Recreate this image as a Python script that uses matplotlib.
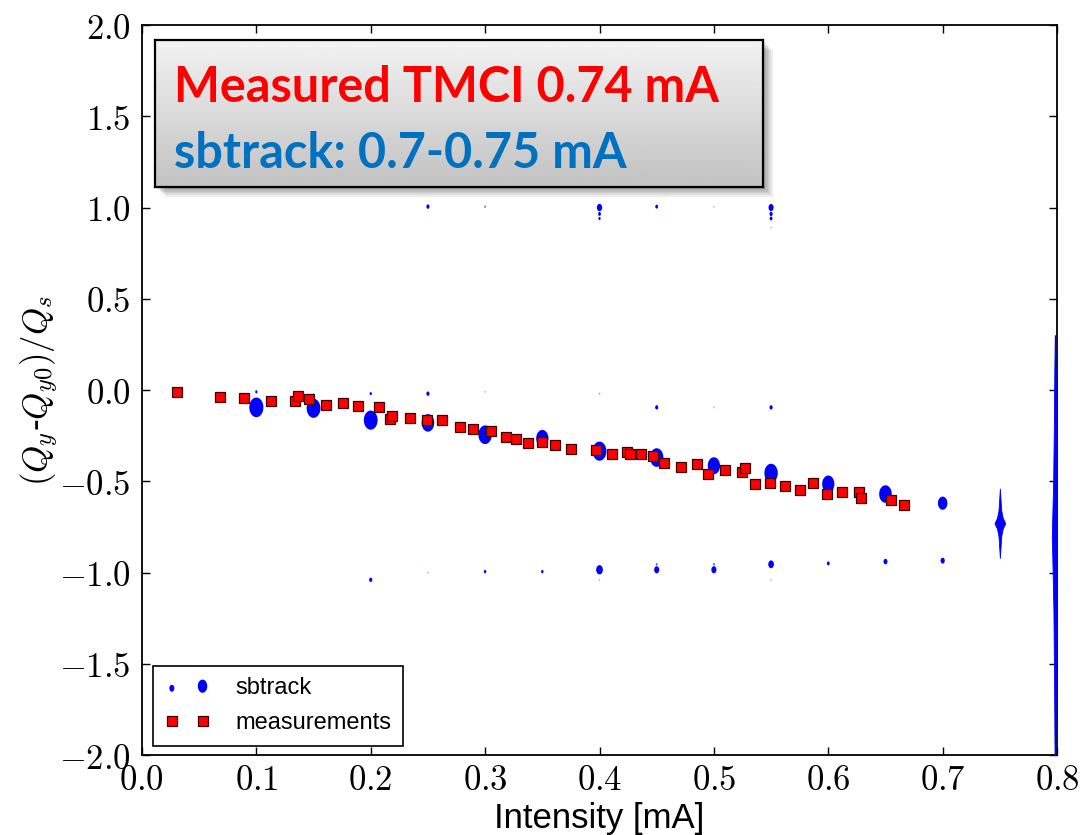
import numpy as np
import matplotlib
matplotlib.use("Agg")
import matplotlib.pyplot as plt
from matplotlib.path import Path
from matplotlib.patches import Rectangle
from matplotlib.lines import Line2D
from matplotlib.legend_handler import HandlerPathCollection
from matplotlib.ticker import FuncFormatter, MultipleLocator

plt.rcParams["mathtext.fontset"] = "cm"

# -----------------------------------------------------------------------------
# data
# -----------------------------------------------------------------------------

# sbtrack, main (mode 0) line
sb_main_x = [0.10, 0.15, 0.20, 0.25, 0.30, 0.35, 0.40, 0.45, 0.50, 0.55, 0.60, 0.65, 0.70]
sb_main_y = [-0.095, -0.100, -0.165, -0.180, -0.245, -0.265, -0.335, -0.370,
             -0.415, -0.455, -0.515, -0.570, -0.620]
sb_main_s = [200, 190, 190, 160, 180, 150, 190, 180, 150, 180, 150, 160, 90]

# sbtrack, weak side lines (near 0, +1 and -1)
sb_side_x = [0.10, 0.15, 0.20, 0.25, 0.30, 0.40, 0.45, 0.50, 0.55,
             0.25, 0.30, 0.40, 0.40, 0.40, 0.45, 0.50, 0.55, 0.55, 0.55, 0.55,
             0.20, 0.25, 0.30, 0.35, 0.40, 0.40, 0.45, 0.45, 0.50, 0.50,
             0.55, 0.55, 0.60, 0.65, 0.70]
sb_side_y = [-0.01, -0.02, -0.02, -0.02, -0.01, -0.02, -0.095, -0.095, -0.095,
             1.005, 1.005, 1.00, 0.965, 0.94, 1.005, 1.005, 1.00, 0.965, 0.94, 0.89,
             -1.04, -1.00, -0.995, -0.995, -0.985, -1.04, -0.985, -0.955, -0.985, -0.955,
             -0.955, -1.04, -0.95, -0.94, -0.935]
sb_side_s = [5, 2, 5, 10, 2, 3, 10, 2, 10,
             10, 3, 28, 8, 5, 8, 2, 26, 10, 8, 2,
             10, 2, 6, 6, 45, 2, 26, 4, 26, 4,
             32, 2, 8, 16, 18]
sb_side_alpha = [1, .35, 1, 1, .35, .35, 1, .35, 1,
                 1, .6, 1, 1, 1, 1, .35, 1, 1, 1, .35,
                 1, .35, 1, 1, 1, .35, 1, .6, 1, .6,
                 1, .35, 1, 1, 1]

# sbtrack spectra that smear out at 0.75 and 0.8 mA (tune, half width in mA)
spread_075_x = 0.75
spread_075_y = [-0.54, -0.60, -0.66, -0.70, -0.73, -0.76, -0.80, -0.86, -0.92]
spread_075_w = [0.0, 0.0006, 0.0012, 0.0025, 0.0047, 0.0025, 0.0012, 0.0006, 0.0]
spread_080_x = 0.7982
spread_080_y = [0.30, 0.10, -0.20, -0.50, -0.70, -0.80, -0.90, -1.20, -1.60, -2.0]
spread_080_w = [0.0002, 0.0006, 0.0010, 0.0016, 0.0024, 0.0028, 0.0024, 0.0014, 0.0008, 0.0004]

# measurements
meas_x = [0.031, 0.068, 0.089, 0.1125, 0.1335, 0.136, 0.146, 0.161, 0.176, 0.189,
          0.207, 0.217, 0.219, 0.234, 0.249, 0.2626, 0.2778, 0.2897, 0.3054, 0.318,
          0.3267, 0.3378, 0.3495, 0.3614, 0.3748, 0.3967, 0.411, 0.4243, 0.4267, 0.4363,
          0.447, 0.456, 0.4716, 0.485, 0.4946, 0.510, 0.5245, 0.5275, 0.536, 0.5488,
          0.5622, 0.575, 0.5867, 0.5986, 0.612, 0.627, 0.6284, 0.6546, 0.666]
meas_y = [-0.009, -0.037, -0.042, -0.062, -0.059, -0.033, -0.048, -0.082, -0.073, -0.088,
          -0.091, -0.157, -0.142, -0.152, -0.163, -0.166, -0.201, -0.212, -0.226, -0.256,
          -0.270, -0.289, -0.285, -0.300, -0.325, -0.329, -0.349, -0.340, -0.349, -0.349,
          -0.364, -0.398, -0.424, -0.407, -0.459, -0.438, -0.449, -0.427, -0.517, -0.508,
          -0.528, -0.548, -0.508, -0.572, -0.557, -0.557, -0.592, -0.603, -0.632]

box_line1 = "Measured TMCI 0.74 mA"
box_line2 = "sbtrack: 0.7-0.75 mA"

# -----------------------------------------------------------------------------
# figure
# -----------------------------------------------------------------------------

fig = plt.figure(figsize=(10.92, 8.35), dpi=100)
ax = fig.add_axes([0.130, 0.0958, 0.838, 0.8742])

# tall ellipse marker, like the sbtrack blobs
t = np.linspace(0, 2 * np.pi, 40)
ellipse = Path(np.column_stack([0.72 * np.cos(t), np.sin(t)]), closed=True)

sb = ax.scatter(sb_main_x, sb_main_y, s=sb_main_s, marker=ellipse,
                color="#0000ff", linewidths=0, zorder=3, label="sbtrack")
ax.scatter(sb_side_x, sb_side_y, s=sb_side_s, marker=ellipse, color="#0000ff",
           alpha=sb_side_alpha, linewidths=0, zorder=3)

w = np.array(spread_075_w)
ax.fill_betweenx(spread_075_y, spread_075_x - w, spread_075_x + w,
                 color="#0000ff", linewidth=0.6, zorder=3)
w = np.array(spread_080_w)
ax.fill_betweenx(spread_080_y, spread_080_x - w, spread_080_x + w,
                 color="#0000ff", linewidth=0.6, zorder=3)

ax.plot(meas_x, meas_y, ls="none", marker="s", ms=7.2, mfc="#ff0000",
        mec="#3a0000", mew=0.9, zorder=4, label="measurements")

ax.set_xlim(0.0, 0.8)
ax.set_ylim(-2.0, 2.0)
ax.xaxis.set_major_locator(MultipleLocator(0.1))
ax.yaxis.set_major_locator(MultipleLocator(0.5))
fmt = FuncFormatter(lambda v, pos: "$%.1f$" % v)
ax.xaxis.set_major_formatter(fmt)
ax.yaxis.set_major_formatter(fmt)
ax.tick_params(direction="in", top=True, right=True, length=6, width=1,
               labelsize=25)
ax.tick_params(axis="y", pad=8)
ax.tick_params(axis="x", pad=6)
for sp in ax.spines.values():
    sp.set_linewidth(1.3)

ax.set_xlabel("Intensity [mA]", fontsize=25, family="Liberation Sans")
ax.xaxis.set_label_coords(0.5, -0.064)
ax.set_ylabel(r"$(Q_y$-$Q_{y0})/Q_s$", fontsize=25, family="DejaVu Serif")
ax.yaxis.set_label_coords(-0.088, 0.5)

meas_handle = Line2D([], [], ls="none", marker="s", ms=7.2, mfc="#ff0000",
                     mec="#3a0000", mew=0.9)
leg = ax.legend([sb, meas_handle], ["sbtrack", "measurements"], loc="lower left",
                bbox_to_anchor=(0.012, 0.012), numpoints=2, scatterpoints=2,
                handler_map={sb: HandlerPathCollection(sizes=[25, 90])},
                prop={"family": "Liberation Sans", "size": 17}, fancybox=False,
                framealpha=1, edgecolor="black", handlelength=1.9,
                handletextpad=1.1, borderpad=0.5, labelspacing=0.55,
                borderaxespad=0.0)
leg.get_frame().set_linewidth(1.2)

# -----------------------------------------------------------------------------
# annotation box with grey gradient and drop shadow
# -----------------------------------------------------------------------------

bx, by, bw, bh = 155 / 1092, 1 - 187 / 835, 608 / 1092, 147 / 835
for k in range(6):
    off = (k + 1) * 1.6
    fig.patches.append(Rectangle((bx + off / 1092, by - off / 835), bw, bh,
                                 transform=fig.transFigure, facecolor="black",
                                 edgecolor="none", alpha=0.07, zorder=5))

bax = fig.add_axes([bx, by, bw, bh], zorder=6)
grad = np.linspace(0.95, 0.76, 100).reshape(-1, 1)
bax.imshow(np.repeat(grad, 2, axis=1), cmap="gray", vmin=0, vmax=1,
           aspect="auto", extent=[0, 1, 0, 1])
bax.set_xticks([])
bax.set_yticks([])
for sp in bax.spines.values():
    sp.set_linewidth(1.6)
    sp.set_color("black")

bax.text(0.032, 0.575, box_line1, transform=bax.transAxes, color="#ff0000",
         fontsize=35, fontweight="bold", family="Lato", va="baseline")
bax.text(0.032, 0.13, box_line2, transform=bax.transAxes, color="#0070c0",
         fontsize=35, fontweight="bold", family="Lato", va="baseline")

fig.savefig("out.png", dpi=100)
